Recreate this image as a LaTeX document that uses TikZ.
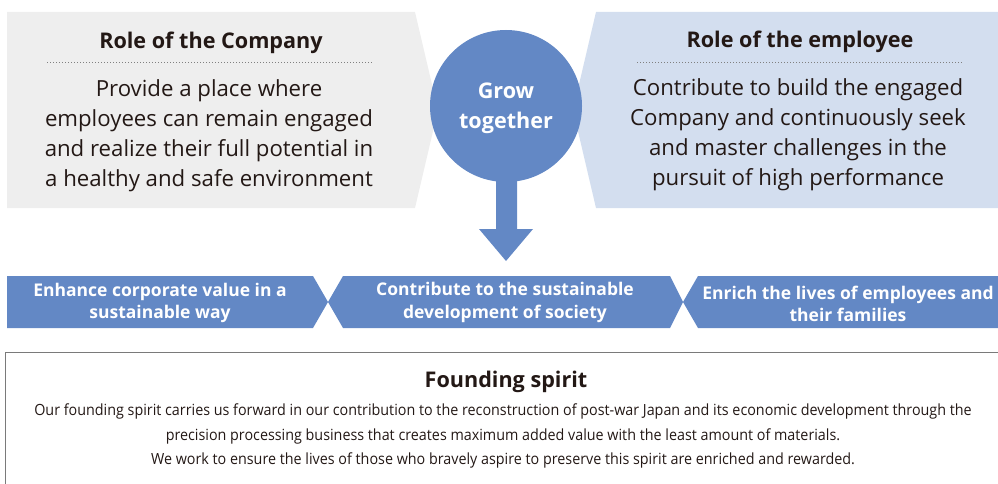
\documentclass[tikz,border=0pt]{standalone}
\usepackage{fontspec}
\setmainfont{Open Sans}
\newfontfamily\condfont[FakeStretch=0.93]{Open Sans}
\definecolor{txt}{HTML}{231815}
\definecolor{graybox}{HTML}{EEEEEE}
\definecolor{lightblue}{HTML}{D3DEEF}
\definecolor{midblue}{HTML}{6388C5}
\definecolor{frame}{HTML}{7A7A7A}
\tikzset{
  head/.style={font=\fontsize{21.6}{25}\selectfont\bfseries, text=txt, inner sep=0pt},
  body/.style={font=\fontsize{22.2}{30}\selectfont, text=txt, align=center, inner sep=0pt},
  bantext/.style={font=\fontsize{17.5}{22.5}\selectfont\bfseries, text=white, align=center, inner sep=0pt},
  dotline/.style={draw=gray, line width=1pt, dash pattern=on 1pt off 2pt},
}
\begin{document}
\begin{tikzpicture}[x=1pt,y=-1pt]
\useasboundingbox (0,0) rectangle (998,484);
% left box
\fill[graybox] (7,12) -- (415,12) -- (438,110) -- (415,208) -- (7,208) -- cycle;
% right box
\fill[lightblue] (596,12) -- (998,12) -- (998,208) -- (596,208) -- (573,110) -- cycle;
% circle + arrow
\fill[midblue] (506,106) circle (76);
\fill[midblue] (496,170) -- (517,170) -- (517,229) -- (533,229) -- (506,261) -- (479,229) -- (496,229) -- cycle;
\node[font=\fontsize{21.6}{30}\selectfont\bfseries, text=white, align=center, inner sep=0pt] (grow) at (506,108) {Grow\\together};
% left texts
\node[head] (lh) at (211,43) {Role of the Company};
\coordinate (l1) at (47,63); \coordinate (l2) at (372,63);
\draw[dotline] (l1) -- (l2);
\node[body] (lb) at (209,135.5) {Provide a place where\\employees can remain engaged\\and realize their full potential in\\a healthy and safe environment};
% right texts
\node[head] (rh) at (800,42) {Role of the employee};
\coordinate (r1) at (637,63); \coordinate (r2) at (962,63);
\draw[dotline] (r1) -- (r2);
\node[body] (rb) at (798,134.5) {Contribute to build the engaged\\Company and continuously seek\\and master challenges in the\\pursuit of high performance};
% banners
\fill[midblue] (7,276) -- (313,276) -- (328,302) -- (313,328) -- (7,328) -- cycle;
\fill[midblue] (343,276) -- (670,276) -- (683,302) -- (670,328) -- (343,328) -- (328,302) -- cycle;
\fill[midblue] (698,276) -- (998,276) -- (998,328) -- (698,328) -- (683,302) -- cycle;
\node[bantext] (b1) at (160,303) {Enhance corporate value in a\\sustainable way};
\node[bantext] (b2) at (505,302.5) {Contribute to the sustainable\\development of society};
\node[bantext] (b3) at (848,304) {Enrich the lives of employees and\\their families};
% founding
\draw[frame, line width=1pt] (5,500) -- (5,352) -- (1005,352);
\node[font=\fontsize{21.6}{24}\selectfont\bfseries, text=txt, inner sep=0pt] (fh) at (506,382) {Founding spirit};
\node[font=\condfont\fontsize{15.4}{24.5}\selectfont, text=txt, align=center, inner sep=0pt] (fb) at (503,436) {Our founding spirit carries us forward in our contribution to the reconstruction of post-war Japan and its economic development through the\\precision processing business that creates maximum added value with the least amount of materials.\\We work to ensure the lives of those who bravely aspire to preserve this spirit are enriched and rewarded.};
\end{tikzpicture}
\end{document}
